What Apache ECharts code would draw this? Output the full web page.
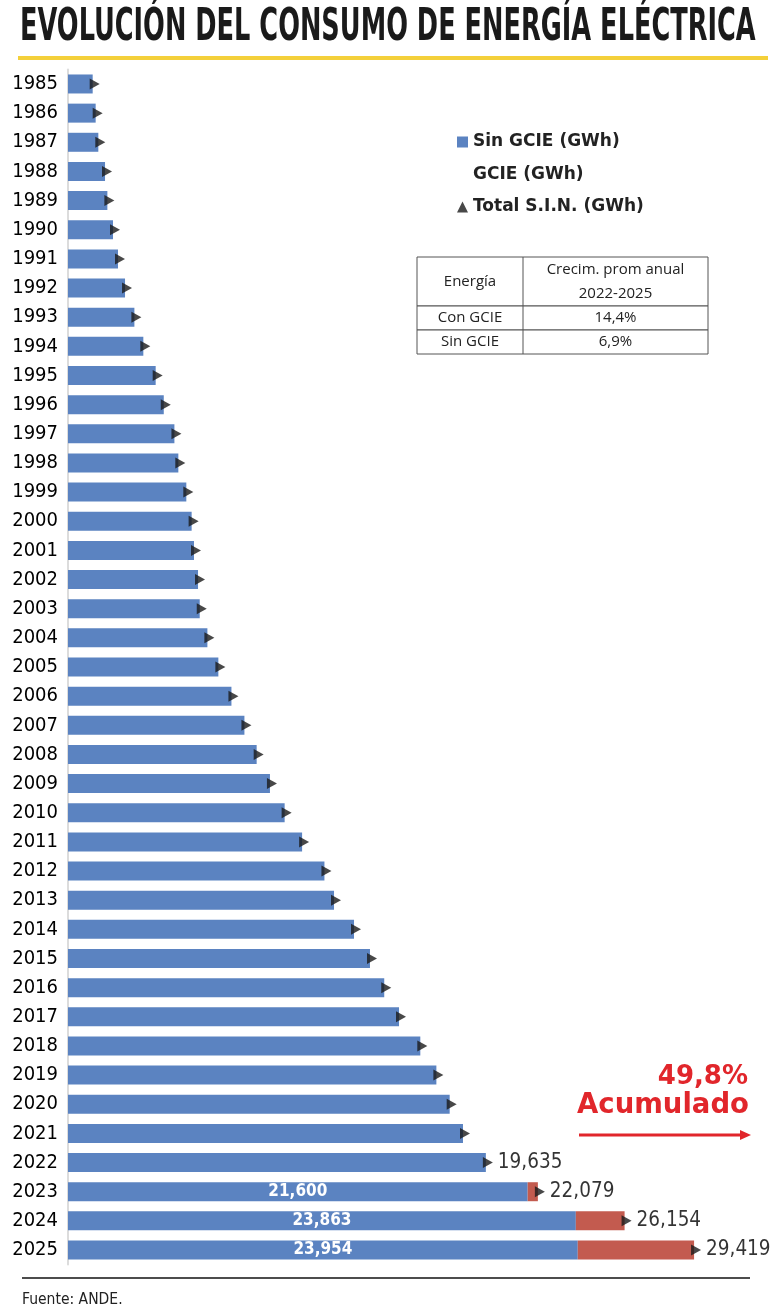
<!DOCTYPE html>
<html>
<head>
<meta charset="utf-8">
<script src="https://cdn.jsdelivr.net/npm/echarts@6/dist/echarts.min.js"></script>
<style>
  html, body { margin: 0; padding: 0; background: #fff; }
  #main { width: 770px; height: 1315px; }
</style>
</head>
<body>
<div id="main"></div>
<script>
const years = ['1985','1986','1987','1988','1989','1990','1991','1992','1993','1994',
  '1995','1996','1997','1998','1999','2000','2001','2002','2003','2004',
  '2005','2006','2007','2008','2009','2010','2011','2012','2013','2014',
  '2015','2016','2017','2018','2019','2020','2021','2022','2023','2024','2025'];

// Sin GCIE (GWh)
const sinGcie = [1160,1300,1425,1740,1850,2115,2350,2680,3120,3540,
  4120,4500,5000,5185,5560,5810,5920,6110,6190,6550,
  7065,7680,8290,8865,9490,10180,11000,12050,12500,13440,
  14190,14860,15555,16555,17310,17935,18560,19635,21600,23863,23954];

// GCIE (GWh)
const gcie = [0,0,0,0,0,0,0,0,0,0,
  0,0,0,0,0,0,0,0,0,0,
  0,0,0,0,0,0,0,0,0,0,
  0,0,0,0,0,0,0,0,479,2291,5465];

// Total S.I.N. (GWh)
const total = [1160,1300,1425,1740,1850,2115,2350,2680,3120,3540,
  4120,4500,5000,5185,5560,5810,5920,6110,6190,6550,
  7065,7680,8290,8865,9490,10180,11000,12050,12500,13440,
  14190,14860,15555,16555,17310,17935,18560,19635,22079,26154,29419];

const labelledTotals = ['2022','2023','2024','2025'];
const labelledInside = ['2023','2024','2025'];

const tableRows = [
  ['Con GCIE', '14,4%'],
  ['Sin GCIE', '6,9%']
];

const BLUE = '#5b83c1';
const RED = '#c35b4f';
const NARROW = '"DejaVu Sans Condensed", sans-serif';
const WIDE = '"DejaVu Sans", sans-serif';

function fmt(v) {
  return String(v).replace(/\B(?=(\d{3})+(?!\d))/g, ',');
}

const chart = echarts.init(document.getElementById('main'));

// table graphic
const tX = 417, tY = 257, tW = 291, c1 = 106;
const rowH = [49, 24, 24];
const tableEls = [];
let yy = tY;
rowH.forEach((h, i) => {
  tableEls.push({ type: 'rect', shape: { x: tX, y: yy, width: tW, height: h },
    style: { fill: '#fff', stroke: '#555', lineWidth: 1 } });
  yy += h;
});
tableEls.push({ type: 'line', shape: { x1: tX + c1, y1: tY, x2: tX + c1, y2: yy },
  style: { stroke: '#555', lineWidth: 1 } });
const cellFont = { fontFamily: '"Open Sans", sans-serif', fontSize: 15, fill: '#222',
  textAlign: 'center', textVerticalAlign: 'middle' };
tableEls.push({ type: 'text', style: Object.assign({ x: tX + c1 / 2, y: tY + 25, text: 'Energía' }, cellFont) });
tableEls.push({ type: 'text', style: Object.assign({ x: tX + c1 + (tW - c1) / 2, y: tY + 13, text: 'Crecim. prom anual' }, cellFont) });
tableEls.push({ type: 'text', style: Object.assign({ x: tX + c1 + (tW - c1) / 2, y: tY + 37, text: '2022-2025' }, cellFont) });
tableRows.forEach((r, i) => {
  const cy = tY + rowH[0] + i * 24 + 12;
  tableEls.push({ type: 'text', style: Object.assign({ x: tX + c1 / 2, y: cy, text: r[0] }, cellFont) });
  tableEls.push({ type: 'text', style: Object.assign({ x: tX + c1 + (tW - c1) / 2, y: cy, text: r[1] }, cellFont) });
});

const option = {
  animation: false,
  backgroundColor: '#fff',
  grid: { left: 68, right: 21, top: 69.4, bottom: 50.4, containLabel: false },
  legend: {
    orient: 'vertical',
    left: 452,
    top: 128.5,
    itemWidth: 11,
    itemHeight: 11,
    itemGap: 15.5,
    selectedMode: false,
    textStyle: { fontFamily: WIDE, fontWeight: 'bold', fontSize: 17, color: '#222' },
    data: [
      { name: 'Sin GCIE (GWh)', icon: 'rect' },
      { name: 'GCIE (GWh)', icon: 'rect', itemStyle: { opacity: 0 } },
      { name: 'Total S.I.N. (GWh)', icon: 'triangle' }
    ]
  },
  xAxis: { type: 'value', min: 0, max: 32000, show: false },
  yAxis: {
    type: 'category',
    data: years,
    inverse: true,
    axisTick: { show: false },
    axisLine: { show: true, lineStyle: { color: '#dcdcdc', width: 2 } },
    axisLabel: { fontFamily: NARROW, fontSize: 20, color: '#000', margin: 10 }
  },
  series: [
    {
      name: 'Sin GCIE (GWh)',
      type: 'bar',
      stack: 'e',
      barWidth: 19,
      itemStyle: { color: BLUE },
      data: sinGcie.map((v, i) => ({
        value: v,
        label: {
          show: labelledInside.includes(years[i]),
          position: 'inside',
          formatter: p => fmt(p.value),
          color: '#fff',
          fontFamily: NARROW,
          fontWeight: 'bold',
          fontSize: 17
        }
      }))
    },
    {
      name: 'GCIE (GWh)',
      type: 'bar',
      stack: 'e',
      barWidth: 19,
      itemStyle: { color: RED },
      data: gcie
    },
    {
      name: 'Total S.I.N. (GWh)',
      type: 'scatter',
      symbol: 'path://M0,0 L10,5 L0,10 Z',
      symbolSize: [10, 11],
      symbolOffset: [2, 0],
      itemStyle: { color: '#1a1a1a' },
      z: 5,
      data: total.map((v, i) => ({
        value: [v, years[i]],
        label: {
          show: labelledTotals.includes(years[i]),
          position: 'right',
          distance: 5,
          formatter: p => fmt(p.value[0]),
          color: '#000',
          fontFamily: NARROW,
          fontSize: 20.5
        }
      }))
    }
  ],
  graphic: [
    {
      type: 'text', x: 20, y: 28, scaleX: 0.838, scaleY: 1.33,
      style: { text: 'EVOLUCIÓN DEL CONSUMO DE ENERGÍA ELÉCTRICA', fontFamily: NARROW,
        fontWeight: 'bold', fontSize: 34, fill: '#1a1a1a', textVerticalAlign: 'middle' }
    },
    { type: 'rect', shape: { x: 18, y: 56, width: 750, height: 4 }, style: { fill: '#f4d03a' } },
    {
      type: 'text', x: 748, y: 1077,
      style: { text: '49,8%', fontFamily: WIDE, fontWeight: 'bold', fontSize: 26, fill: '#e1262b',
        textAlign: 'right', textVerticalAlign: 'middle' }
    },
    {
      type: 'text', x: 749, y: 1106,
      style: { text: 'Acumulado', fontFamily: WIDE, fontWeight: 'bold', fontSize: 27.5, fill: '#e1262b',
        textAlign: 'right', textVerticalAlign: 'middle' }
    },
    { type: 'line', shape: { x1: 579, y1: 1135, x2: 742, y2: 1135 }, style: { stroke: '#e1262b', lineWidth: 3 } },
    { type: 'polygon', shape: { points: [[740, 1130], [751, 1135], [740, 1140]] }, style: { fill: '#e1262b' } },
    { type: 'line', shape: { x1: 22, y1: 1278, x2: 750, y2: 1278 }, style: { stroke: '#111', lineWidth: 1.5 } },
    {
      type: 'text', x: 22, y: 1300,
      style: { text: 'Fuente: ANDE.', fontFamily: NARROW, fontSize: 15.5, fill: '#222', textVerticalAlign: 'middle' }
    }
  ].concat(tableEls)
};

chart.setOption(option);
</script>
</body>
</html>
